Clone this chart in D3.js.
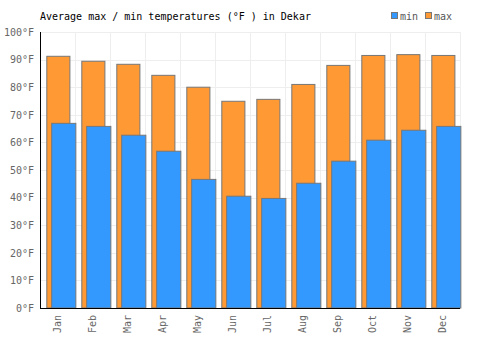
<!DOCTYPE html>
<html>
<head>
<meta charset="utf-8">
<script src="https://cdn.jsdelivr.net/npm/d3@7"></script>
<style>
  body { margin: 0; background: #fff; }
  text { font-family: "DejaVu Sans Mono", monospace; font-size: 10px; }
</style>
</head>
<body>
<div id="chart"></div>
<script>
// chart values
const months = ["Jan", "Feb", "Mar", "Apr", "May", "Jun", "Jul", "Aug", "Sep", "Oct", "Nov", "Dec"];
const maxTemps = [91.2, 89.4, 88.3, 84.3, 80.0, 74.9, 75.6, 81.0, 87.9, 91.5, 91.8, 91.5];
const minTemps = [66.9, 65.8, 62.6, 56.8, 46.6, 40.5, 39.7, 45.2, 53.2, 60.8, 64.4, 65.8];
const yTicks = [0, 10, 20, 30, 40, 50, 60, 70, 80, 90, 100];

var w = 500, h = 350;
var margin = { top: 32, right: 40, bottom: 42, left: 40 },
    width = w - margin.left - margin.right,
    height = h - margin.top - margin.bottom;

var svg = d3.select("#chart")
    .append("svg")
    .attr("width", w)
    .attr("height", h);

// title
svg.append("text")
    .attr("x", 40)
    .attr("y", 20)
    .attr("fill", "#000")
    .text("Average max / min temperatures (°F ) in Dekar");

// legend
var legend = [["min", "#3399ff"], ["max", "#ff9933"]];
legend.forEach(function (d, i) {
    var lx = 391 + i * 34;
    svg.append("rect")
        .attr("x", lx + 0.5).attr("y", 12.5)
        .attr("width", 6).attr("height", 6)
        .attr("fill", d[1]).attr("stroke", "#777").attr("stroke-width", 1);
    svg.append("text")
        .attr("x", lx + 9).attr("y", 20)
        .attr("fill", "#555")
        .text(d[0]);
});

var g = svg.append("g")
    .attr("transform", `translate(${margin.left}, ${margin.top})`);

var x = d3.scaleBand()
    .domain(months)
    .range([0, width]);

var y = d3.scaleLinear()
    .domain([0, 100])
    .range([height, 0]);

// grid
g.append("g")
    .selectAll("line")
    .data(yTicks)
    .join("line")
    .attr("x1", 0).attr("x2", width)
    .attr("y1", d => Math.round(y(d)) + 0.5)
    .attr("y2", d => Math.round(y(d)) + 0.5)
    .attr("stroke", "#eee");

g.append("g")
    .selectAll("line")
    .data(months.slice(1).concat(["end"]))
    .join("line")
    .attr("x1", (d, i) => x.step() * (i + 1) + 0.5)
    .attr("x2", (d, i) => x.step() * (i + 1) + 0.5)
    .attr("y1", 0).attr("y2", height)
    .attr("stroke", "#eee");

var bw = x.bandwidth();

// max bars (behind)
g.append("g")
    .selectAll("rect")
    .data(maxTemps)
    .join("rect")
    .attr("x", (d, i) => x(months[i]) + bw * 0.18 + 0.5)
    .attr("width", bw * 0.66)
    .attr("y", d => y(d))
    .attr("height", d => height - y(d))
    .attr("fill", "#ff9933")
    .attr("stroke", "#777")
    .attr("stroke-width", 1);

// min bars (front)
g.append("g")
    .selectAll("rect")
    .data(minTemps)
    .join("rect")
    .attr("x", (d, i) => x(months[i]) + bw * 0.32 + 0.5)
    .attr("width", bw * 0.69)
    .attr("y", d => y(d))
    .attr("height", d => height - y(d))
    .attr("fill", "#3399ff")
    .attr("stroke", "#777")
    .attr("stroke-width", 1);

// axes
var yAxis = d3.axisLeft(y)
    .tickValues(yTicks)
    .tickSize(0)
    .tickPadding(6)
    .tickFormat(d => d + "°F");

var ya = g.append("g").call(yAxis);
ya.select(".domain").remove();
ya.selectAll("text").attr("fill", "#666").style("font-size", "10px").style("font-family", "DejaVu Sans Mono");

var xAxis = d3.axisBottom(x).tickSize(0).tickPadding(0);
var xa = g.append("g")
    .attr("transform", `translate(0, ${height})`)
    .call(xAxis);
xa.select(".domain").remove();
xa.selectAll("text")
    .attr("fill", "#666")
    .style("font-size", "10px")
    .style("font-family", "DejaVu Sans Mono")
    .style("text-anchor", "end")
    .attr("dx", "-7")
    .attr("dy", "0.35em")
    .attr("y", 0)
    .attr("transform", "rotate(-90)");

// axis lines
g.append("line")
    .attr("x1", 0.5).attr("x2", 0.5)
    .attr("y1", 0).attr("y2", height + 0.5)
    .attr("stroke", "#000");
g.append("line")
    .attr("x1", 0).attr("x2", width)
    .attr("y1", height + 0.5).attr("y2", height + 0.5)
    .attr("stroke", "#000");
</script>
</body>
</html>
